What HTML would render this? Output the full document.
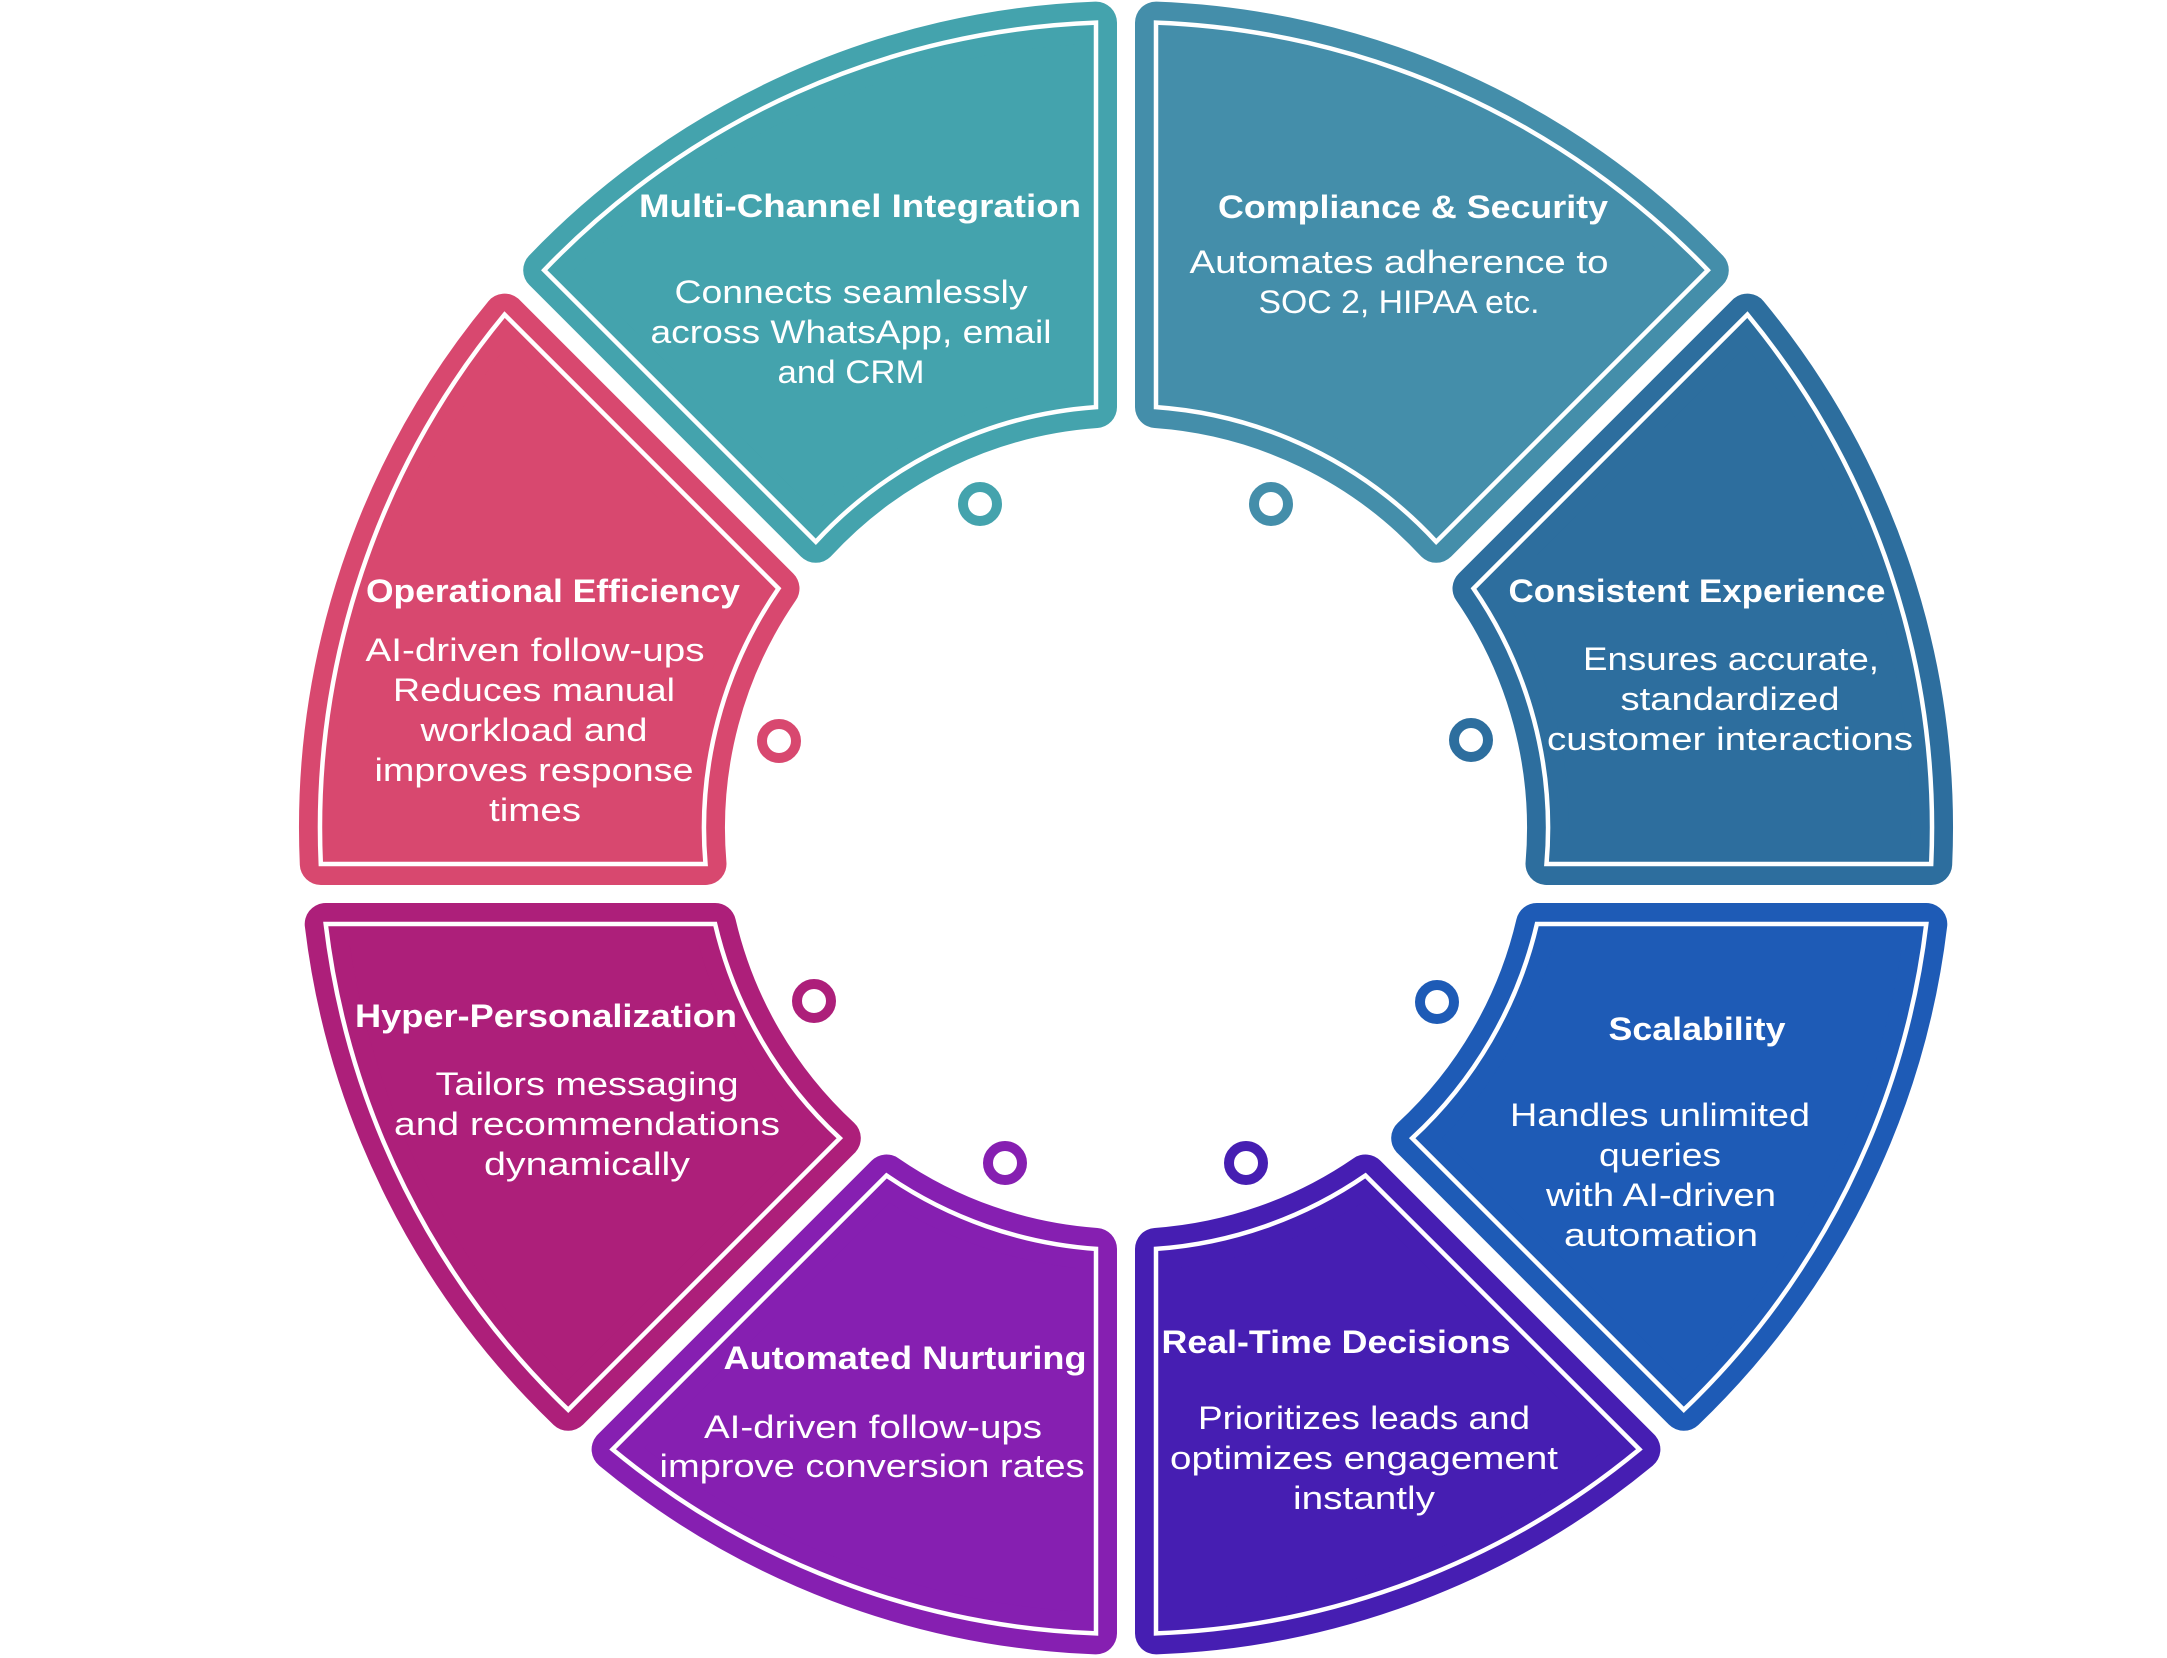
<!DOCTYPE html>
<html>
<head>
<meta charset="utf-8">
<style>
  html, body { margin: 0; padding: 0; background: #ffffff; }
  body { width: 2167px; height: 1658px; overflow: hidden; }
  svg { display: block; }
  .t { font-family: "Liberation Sans", Arial, sans-serif; font-weight: bold; font-size: 32px; fill: #ffffff; }
  .b { font-family: "Liberation Sans", Arial, sans-serif; font-weight: normal; font-size: 32px; fill: #ffffff; }
</style>
</head>
<body>
<svg width="2167" height="1658" viewBox="0 0 2167 1658" xmlns="http://www.w3.org/2000/svg">
  <rect x="0" y="0" width="2167" height="1658" fill="#ffffff"/>

  <!-- Segment fills with thick same-colour borders -->
  <g stroke-linejoin="round" stroke-width="42">
    <path id="mc" d="M 1096 22.6 A 806 806 0 0 0 544.2 270.2 L 815.8 541.8 A 422 422 0 0 1 1096 407.1 Z" fill="#44A3AD" stroke="#44A3AD"/>
    <path d="M 1156 22.6 A 806 806 0 0 1 1707.8 270.2 L 1436.2 541.8 A 422 422 0 0 0 1156 407.1 Z" fill="#448EAA" stroke="#448EAA"/>
    <path d="M 504.6 314.6 L 778.5 588.5 A 422 422 0 0 0 705.5 864 L 320.8 864 A 806 806 0 0 1 504.6 314.6 Z" fill="#D8486F" stroke="#D8486F"/>
    <path d="M 1747.4 314.6 L 1473.5 588.5 A 422 422 0 0 1 1546.5 864 L 1931.2 864 A 806 806 0 0 0 1747.4 314.6 Z" fill="#2D6E9E" stroke="#2D6E9E"/>
    <path d="M 325.7 924 L 715.1 924 A 422 422 0 0 0 839.8 1138.2 L 568.2 1409.8 A 806 806 0 0 1 325.7 924 Z" fill="#AD1F7A" stroke="#AD1F7A"/>
    <path d="M 1926.3 924 L 1536.9 924 A 422 422 0 0 1 1412.2 1138.2 L 1683.8 1409.8 A 806 806 0 0 0 1926.3 924 Z" fill="#1E5BB6" stroke="#1E5BB6"/>
    <path d="M 886.5 1175.5 A 422 422 0 0 0 1096 1248.9 L 1096 1633.4 A 806 806 0 0 1 612.6 1449.4 Z" fill="#861FB1" stroke="#861FB1"/>
    <path d="M 1365.5 1175.5 A 422 422 0 0 1 1156 1248.9 L 1156 1633.4 A 806 806 0 0 0 1639.4 1449.4 Z" fill="#461EB2" stroke="#461EB2"/>
  </g>

  <!-- White inner outlines -->
  <g fill="none" stroke="#ffffff" stroke-width="4.5" stroke-linejoin="miter" stroke-miterlimit="10">
    <path d="M 1096 22.6 A 806 806 0 0 0 544.2 270.2 L 815.8 541.8 A 422 422 0 0 1 1096 407.1 Z"/>
    <path d="M 1156 22.6 A 806 806 0 0 1 1707.8 270.2 L 1436.2 541.8 A 422 422 0 0 0 1156 407.1 Z"/>
    <path d="M 504.6 314.6 L 778.5 588.5 A 422 422 0 0 0 705.5 864 L 320.8 864 A 806 806 0 0 1 504.6 314.6 Z"/>
    <path d="M 1747.4 314.6 L 1473.5 588.5 A 422 422 0 0 1 1546.5 864 L 1931.2 864 A 806 806 0 0 0 1747.4 314.6 Z"/>
    <path d="M 325.7 924 L 715.1 924 A 422 422 0 0 0 839.8 1138.2 L 568.2 1409.8 A 806 806 0 0 1 325.7 924 Z"/>
    <path d="M 1926.3 924 L 1536.9 924 A 422 422 0 0 1 1412.2 1138.2 L 1683.8 1409.8 A 806 806 0 0 0 1926.3 924 Z"/>
    <path d="M 886.5 1175.5 A 422 422 0 0 0 1096 1248.9 L 1096 1633.4 A 806 806 0 0 1 612.6 1449.4 Z"/>
    <path d="M 1365.5 1175.5 A 422 422 0 0 1 1156 1248.9 L 1156 1633.4 A 806 806 0 0 0 1639.4 1449.4 Z"/>
  </g>

  <!-- Small rings -->
  <g fill="#ffffff" stroke-width="10">
    <circle cx="980" cy="504" r="17" stroke="#44A3AD"/>
    <circle cx="1271" cy="504" r="17" stroke="#448EAA"/>
    <circle cx="779" cy="741" r="17" stroke="#D8486F"/>
    <circle cx="1471" cy="740" r="17" stroke="#2D6E9E"/>
    <circle cx="814" cy="1001" r="17" stroke="#AD1F7A"/>
    <circle cx="1437" cy="1002" r="17" stroke="#1E5BB6"/>
    <circle cx="1005" cy="1163" r="17" stroke="#861FB1"/>
    <circle cx="1246" cy="1163" r="17" stroke="#461EB2"/>
  </g>

  <!-- Multi-Channel Integration -->
  <g text-anchor="middle">
    <text class="t" x="860" y="217" textLength="442" lengthAdjust="spacingAndGlyphs">Multi-Channel Integration</text>
    <text class="b" x="851" y="303" textLength="353" lengthAdjust="spacingAndGlyphs">Connects seamlessly</text>
    <text class="b" x="851" y="343" textLength="401" lengthAdjust="spacingAndGlyphs">across WhatsApp, email</text>
    <text class="b" x="851" y="383" textLength="147" lengthAdjust="spacingAndGlyphs">and CRM</text>

    <!-- Compliance & Security -->
    <text class="t" x="1413" y="218" textLength="390" lengthAdjust="spacingAndGlyphs">Compliance &amp; Security</text>
    <text class="b" x="1399" y="273" textLength="419" lengthAdjust="spacingAndGlyphs">Automates adherence to</text>
    <text class="b" x="1399" y="313" textLength="281" lengthAdjust="spacingAndGlyphs">SOC 2, HIPAA etc.</text>

    <!-- Operational Efficiency -->
    <text class="t" x="553" y="602" textLength="374" lengthAdjust="spacingAndGlyphs">Operational Efficiency</text>
    <text class="b" x="535" y="661" textLength="339" lengthAdjust="spacingAndGlyphs">AI-driven follow-ups</text>
    <text class="b" x="534" y="701" textLength="282" lengthAdjust="spacingAndGlyphs">Reduces manual</text>
    <text class="b" x="534" y="741" textLength="227" lengthAdjust="spacingAndGlyphs">workload and</text>
    <text class="b" x="534" y="781" textLength="319" lengthAdjust="spacingAndGlyphs">improves response</text>
    <text class="b" x="535" y="821" textLength="92" lengthAdjust="spacingAndGlyphs">times</text>

    <!-- Consistent Experience -->
    <text class="t" x="1697" y="602" textLength="377" lengthAdjust="spacingAndGlyphs">Consistent Experience</text>
    <text class="b" x="1731" y="670" textLength="296" lengthAdjust="spacingAndGlyphs">Ensures accurate,</text>
    <text class="b" x="1730" y="710" textLength="219" lengthAdjust="spacingAndGlyphs">standardized</text>
    <text class="b" x="1730" y="750" textLength="366" lengthAdjust="spacingAndGlyphs">customer interactions</text>

    <!-- Hyper-Personalization -->
    <text class="t" x="546" y="1027" textLength="382" lengthAdjust="spacingAndGlyphs">Hyper-Personalization</text>
    <text class="b" x="587" y="1095" textLength="303" lengthAdjust="spacingAndGlyphs">Tailors messaging</text>
    <text class="b" x="587" y="1135" textLength="386" lengthAdjust="spacingAndGlyphs">and recommendations</text>
    <text class="b" x="587" y="1175" textLength="206" lengthAdjust="spacingAndGlyphs">dynamically</text>

    <!-- Scalability -->
    <text class="t" x="1697" y="1040" textLength="177" lengthAdjust="spacingAndGlyphs">Scalability</text>
    <text class="b" x="1660" y="1126" textLength="300" lengthAdjust="spacingAndGlyphs">Handles unlimited</text>
    <text class="b" x="1660" y="1166" textLength="122" lengthAdjust="spacingAndGlyphs">queries</text>
    <text class="b" x="1661" y="1206" textLength="230" lengthAdjust="spacingAndGlyphs">with AI-driven</text>
    <text class="b" x="1661" y="1246" textLength="194" lengthAdjust="spacingAndGlyphs">automation</text>

    <!-- Automated Nurturing -->
    <text class="t" x="905" y="1369" textLength="363" lengthAdjust="spacingAndGlyphs">Automated Nurturing</text>
    <text class="b" x="873" y="1438" textLength="338" lengthAdjust="spacingAndGlyphs">AI-driven follow-ups</text>
    <text class="b" x="872" y="1477" textLength="425" lengthAdjust="spacingAndGlyphs">improve conversion rates</text>

    <!-- Real-Time Decisions -->
    <text class="t" x="1336" y="1353" textLength="349" lengthAdjust="spacingAndGlyphs">Real-Time Decisions</text>
    <text class="b" x="1364" y="1429" textLength="332" lengthAdjust="spacingAndGlyphs">Prioritizes leads and</text>
    <text class="b" x="1364" y="1469" textLength="388" lengthAdjust="spacingAndGlyphs">optimizes engagement</text>
    <text class="b" x="1364" y="1509" textLength="142" lengthAdjust="spacingAndGlyphs">instantly</text>
  </g>
</svg>
</body>
</html>
